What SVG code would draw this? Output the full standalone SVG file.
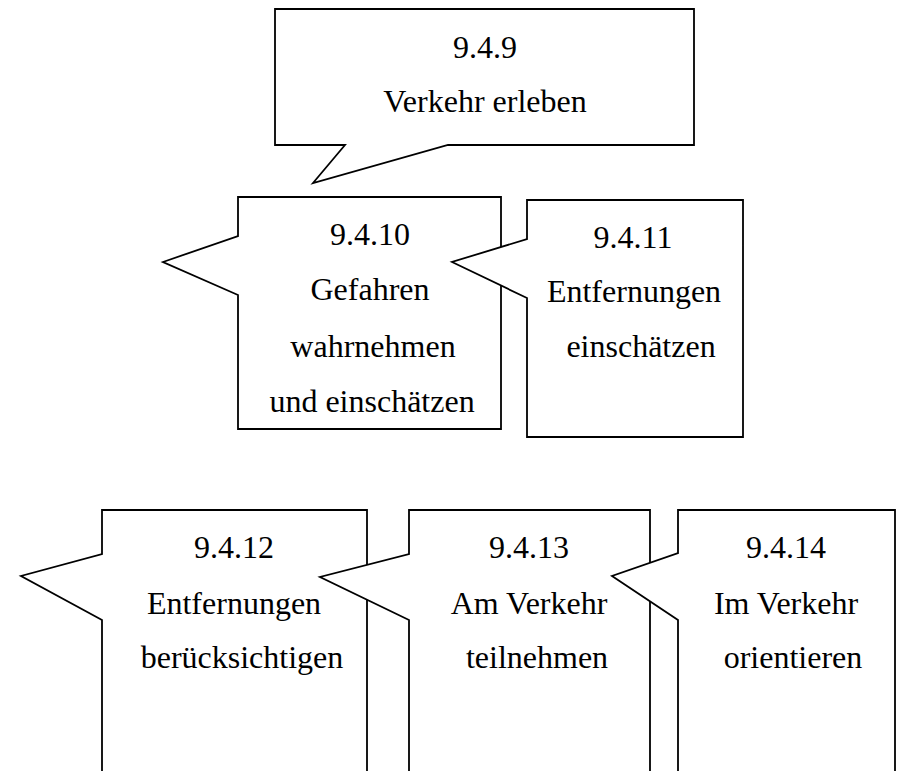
<svg xmlns="http://www.w3.org/2000/svg" width="899" height="771" viewBox="0 0 899 771">
<style>
.box{fill:#fff;stroke:#000;stroke-width:1.8;stroke-linejoin:miter}
.t{font-family:"Liberation Serif","Times New Roman",serif;font-size:32px;fill:#000;text-anchor:middle}
</style>
<rect width="899" height="771" fill="#fff"/>
<g id="connectors"/>
<g id="n949">
<path class="box" d="M275,9 H694 V145 H448 L313,183 L345,145 H275 Z"/>
<text class="t" x="485" y="58">9.4.9</text>
<text class="t" x="485" y="112">Verkehr erleben</text>
</g>
<g id="n9410">
<path class="box" d="M238,197 H501 V429 H238 V295 L163,262 L238,236 Z"/>
<text class="t" x="370" y="245">9.4.10</text>
<text class="t" x="370" y="300">Gefahren</text>
<text class="t" x="373" y="357">wahrnehmen</text>
<text class="t" x="372" y="412">und einschätzen</text>
</g>
<g id="n9411">
<path class="box" d="M527,200 H743 V437 H527 V298 L452,262 L527,239 Z"/>
<text class="t" x="633" y="248">9.4.11</text>
<text class="t" x="634" y="302">Entfernungen</text>
<text class="t" x="641" y="357">einschätzen</text>
</g>
<g id="n9412">
<path class="box" d="M102,510 H367 V800 H102 V620 L21,576 L102,554 Z"/>
<text class="t" x="234" y="558">9.4.12</text>
<text class="t" x="234" y="614">Entfernungen</text>
<text class="t" x="242" y="668">berücksichtigen</text>
</g>
<g id="n9413">
<path class="box" d="M409,510 H650 V800 H409 V620 L320,577 L409,554 Z"/>
<text class="t" x="529" y="558">9.4.13</text>
<text class="t" x="529" y="614">Am Verkehr</text>
<text class="t" x="537" y="668">teilnehmen</text>
</g>
<g id="n9414">
<path class="box" d="M678,510 H895 V800 H678 V620 L612,576 L678,553 Z"/>
<text class="t" x="786" y="558">9.4.14</text>
<text class="t" x="786" y="614">Im Verkehr</text>
<text class="t" x="793" y="668">orientieren</text>
</g>
</svg>
